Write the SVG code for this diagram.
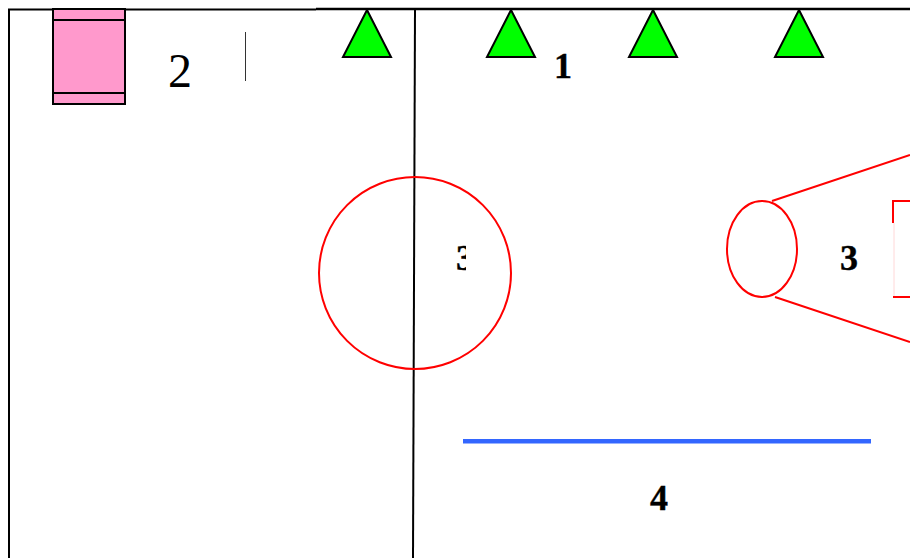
<svg xmlns="http://www.w3.org/2000/svg" width="910" height="558" viewBox="0 0 910 558">
<style>
.frame{fill:none;stroke:#000;stroke-width:2}
.tri{fill:#00ff00;stroke:#000;stroke-width:2;stroke-linejoin:miter}
.red{fill:none;stroke:#ff0000;stroke-width:2}
.b{font-family:"Liberation Serif",serif;font-weight:bold;font-size:36px;fill:#000;stroke:#000;stroke-width:0.4;text-anchor:middle}
</style>
<defs><clipPath id="c3"><rect x="440" y="230" width="26" height="50"/></clipPath></defs>
<rect width="910" height="558" fill="#fff"/>
<g id="connectors">
<path class="frame" d="M9 558V9.500H316" stroke-width="2"/>
<path d="M316 9H910" fill="none" stroke="#000" stroke-width="2.400"/>
<path class="frame" d="M415 9L413 558"/>
<path d="M245.500 32V81" stroke="#333" stroke-width="1" fill="none"/>
<path d="M463 441.300H871" stroke="#3366ff" stroke-width="4.500" fill="none"/>
<path class="red" d="M772 201L910 155M775 297L910 342"/>
</g>
<g id="pink-box">
<rect x="53" y="9" width="72" height="95" fill="#ff99cc" stroke="#000" stroke-width="2"/>
<path d="M53 20H125M53 93H125" stroke="#000" stroke-width="2" fill="none"/>
</g>
<g id="tri1"><polygon class="tri" points="367,10 343,57 391,57"/></g>
<g id="tri2"><polygon class="tri" points="511,10 487,57 535,57"/></g>
<g id="tri3"><polygon class="tri" points="653,10 629,57 677,57"/></g>
<g id="tri4"><polygon class="tri" points="799,10 775,57 823,57"/></g>
<g id="big-circle"><circle class="red" cx="415" cy="273" r="96"/></g>
<g id="ellipse"><ellipse class="red" cx="762" cy="249" rx="35" ry="48"/></g>
<g id="red-box">
<path class="red" d="M893 223V201H910M893 297H910"/>
<path d="M894 223V296" stroke="#ffd8d8" stroke-width="1" fill="none"/>
</g>
<g id="labels">
<text x="180" y="87" font-family="Liberation Serif, serif" font-size="48" text-anchor="middle">2</text>
<text class="b" x="563" y="77.500">1</text>
<text class="b" x="465" y="270" clip-path="url(#c3)">3</text>
<text class="b" x="849" y="269.500">3</text>
<text class="b" x="659" y="509.500">4</text>
</g>
</svg>
